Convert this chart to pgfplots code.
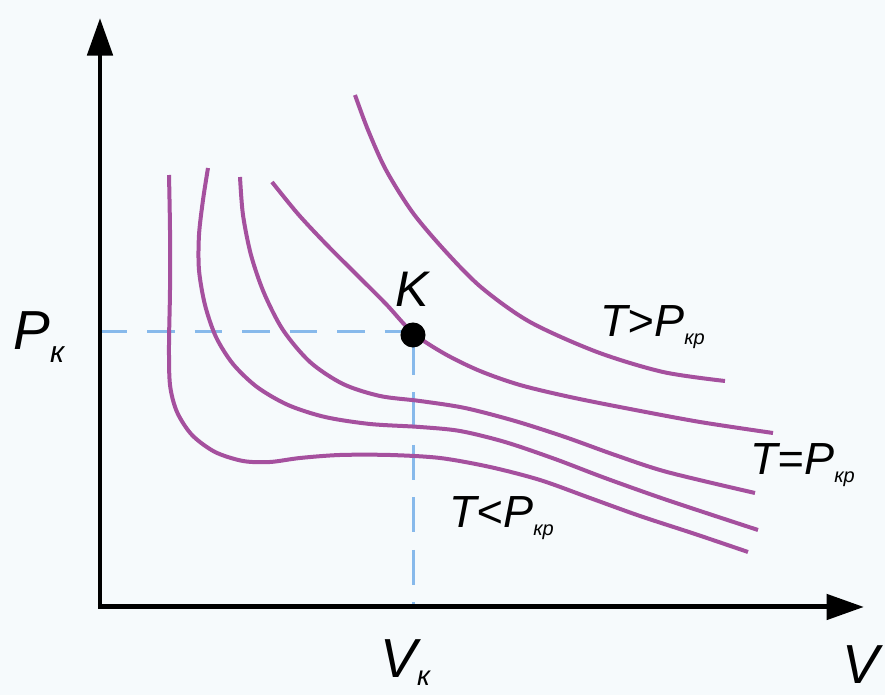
\documentclass[border=0pt]{standalone}
\usepackage{pgfplots}
\pgfplotsset{compat=1.18}
\usepackage{fontspec}
\setmainfont{Liberation Sans}
\usetikzlibrary{arrows.meta}
\definecolor{iso}{RGB}{165,80,158}
\definecolor{dashc}{RGB}{135,185,235}
\definecolor{bg}{RGB}{246,250,252}
\newcommand{\lbl}[1]{\fontsize{#1}{#1}\selectfont\itshape}
\begin{document}
\begin{tikzpicture}
\begin{axis}[scale only axis, width=354pt, height=278pt,
  xmin=0, xmax=885, ymin=0, ymax=695, y dir=reverse,
  hide axis, clip=false]
\fill[bg] (axis cs:0,0) rectangle (axis cs:885,695);
% dashed guides
\addplot[dashc, line width=1.2pt, dash pattern=on 11pt off 8pt] coordinates {(100,332) (405,332)};
\addplot[dashc, line width=1.2pt, dash pattern=on 14pt off 7pt] coordinates {(413,340) (413,607)};
% isotherms
\addplot[iso, line width=1.6pt, smooth, tension=0.5] coordinates {
(169,175) (170,230) (170,290) (169,345) (170,385) (177,412) (192,435) (215,452) (243,461) (270,462) (300,458) (340,455) (390,455) (440,458) (490,467) (540,480) (590,498) (640,516) (695,534) (748,552)};
\addplot[iso, line width=1.6pt, smooth, tension=0.5] coordinates {
(208,168) (203,200) (199,235) (199,270) (205,305) (216,337) (233,364) (257,387) (288,405) (325,417) (370,424) (420,427) (460,431) (505,442) (555,459) (605,478) (667,500) (758,530)};
\addplot[iso, line width=1.6pt, smooth, tension=0.5] coordinates {
(240,177) (243,215) (251,255) (264,293) (283,330) (310,362) (343,384) (380,396) (420,401) (465,408) (515,421) (565,437) (615,455) (667,472) (755,493)};
\addplot[iso, line width=1.6pt, smooth, tension=0.5] coordinates {
(272,182) (298,214) (326,244) (356,274) (386,304) (413,333) (445,354) (480,371) (520,385) (570,397) (630,409) (700,422) (773,433)};
\addplot[iso, line width=1.6pt, smooth, tension=0.5] coordinates {
(355,95) (368,130) (386,170) (413,213) (447,253) (482,288) (530,322) (597,352) (663,372) (725,381)};
% critical point
\addplot[only marks, mark=*, mark size=4.8pt, black] coordinates {(413,335)};
% axes
\draw[line width=2pt, -{Triangle[length=15pt, width=10pt]}] (axis cs:100,609) -- (axis cs:100,18);
\draw[line width=2pt, -{Triangle[length=15pt, width=10pt]}] (axis cs:98,607) -- (axis cs:864,607);
% labels
\node[anchor=base west, inner sep=0, font=\lbl{22}] at (axis cs:13,350) {P\raisebox{-5pt}{\fontsize{12}{12}\selectfont к}};
\node[anchor=base west, inner sep=0, font=\lbl{20}] at (axis cs:395,307) {K};
\node[anchor=base west, inner sep=0, font=\lbl{18}] at (axis cs:600,337) {T>P\raisebox{-3pt}{\fontsize{8}{8}\selectfont кр}};
\node[anchor=base west, inner sep=0, font=\lbl{18}] at (axis cs:750,475) {T=P\raisebox{-3pt}{\fontsize{8}{8}\selectfont кр}};
\node[anchor=base west, inner sep=0, font=\lbl{18}] at (axis cs:449,528) {T<P\raisebox{-3pt}{\fontsize{8}{8}\selectfont кр}};
\node[anchor=base west, inner sep=0, font=\lbl{22}] at (axis cs:380,678) {V\raisebox{-3pt}{\fontsize{11}{11}\selectfont к}};
\node[anchor=base west, inner sep=0, font=\lbl{22}] at (axis cs:842,684) {V};
\end{axis}
\pgfresetboundingbox
\path (current axis.south west) rectangle (current axis.north east);
\end{tikzpicture}
\end{document}
